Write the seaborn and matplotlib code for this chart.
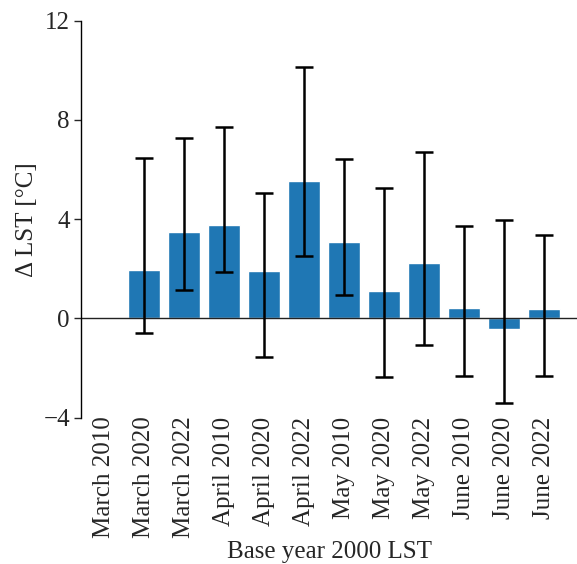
# Delta LST bar chart with asymmetric error bars
import numpy as np
import pandas as pd
import matplotlib
matplotlib.use("Agg")
import matplotlib.pyplot as plt
import seaborn as sns

# -----------------------------------------
# Data
# -----------------------------------------
categories = ["March 2010", "March 2020", "March 2022",
              "April 2010", "April 2020", "April 2022",
              "May 2010", "May 2020", "May 2022",
              "June 2010", "June 2020", "June 2022"]
delta_lst = [np.nan, 1.95, 3.50, 3.75, 1.91, 5.54, 3.08, 1.09, 2.25, 0.44, -0.41, 0.40]
err_low = [np.nan, -0.58, 1.15, 1.86, -1.56, 2.53, 0.96, -2.34, -1.05, -2.33, -3.40, -2.33]
err_high = [np.nan, 6.45, 7.28, 7.72, 5.04, 10.12, 6.44, 5.26, 6.71, 3.73, 3.98, 3.36]
y_ticks = [-4, 0, 4, 8, 12]

df = pd.DataFrame({"period": categories, "dlst": delta_lst})

# -----------------------------------------
# Style
# -----------------------------------------
sns.set_style("ticks")
plt.rcParams["font.family"] = ["Liberation Serif", "DejaVu Serif"]

fig = plt.figure(figsize=(5.77, 5.64), dpi=100)
ax = fig.add_axes([0.1404, 0.2592, 0.8596, 0.7044])

sns.barplot(data=df, x="period", y="dlst", order=categories,
            color="#1f77b4", saturation=1, width=0.78,
            errorbar=None, ax=ax)

vals = np.array(delta_lst)
yerr = np.vstack([vals - np.array(err_low), np.array(err_high) - vals])
ax.errorbar(np.arange(len(categories)), vals, yerr=yerr, fmt="none",
            ecolor="black", elinewidth=1.8, capsize=6.8, capthick=1.8)

ax.axhline(0, color="#222222", lw=1.0, zorder=1.5)

# -----------------------------------------
# Axes
# -----------------------------------------
ax.set_xlim(-0.575, 11.825)
ax.set_ylim(-4, 12)
ax.set_yticks(y_ticks)
ax.tick_params(axis="y", labelsize=18, length=5, width=1, direction="out", pad=3)
ax.tick_params(axis="x", labelsize=18, length=0, rotation=90, pad=-1)
ax.set_xlabel("Base year 2000 LST", fontsize=18, labelpad=2)
ax.set_ylabel("Δ LST [°C]", fontsize=18, labelpad=4)
sns.despine(ax=ax, top=True, right=True, bottom=True)
ax.spines["left"].set_linewidth(1)
ax.spines["left"].set_color("black")

fig.savefig("out.png", dpi=100)
